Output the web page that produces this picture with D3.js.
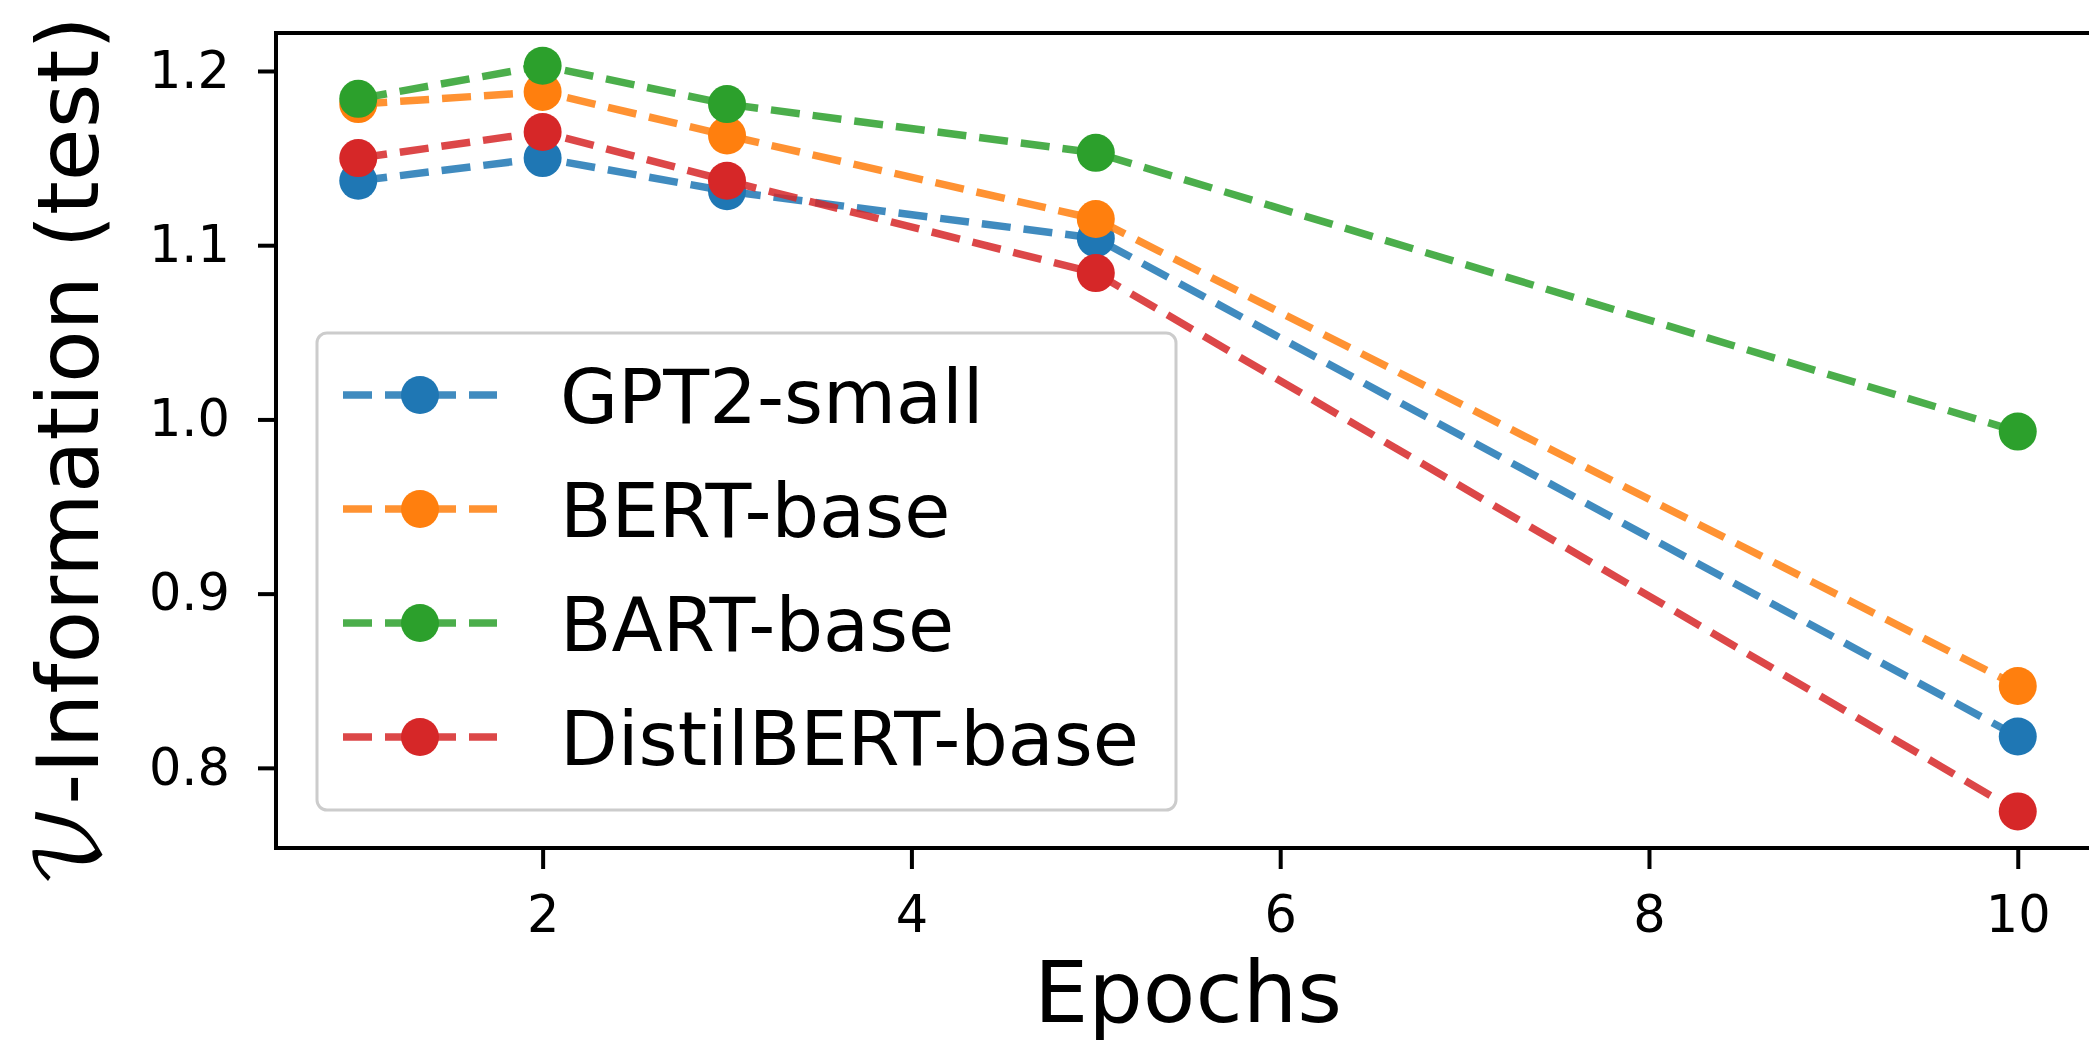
<!DOCTYPE html>
<html>
<head>
<meta charset="utf-8">
<script src="https://d3js.org/d3.v7.min.js"></script>
<style>
  body { margin: 0; background: #fff; }
  text { font-family: "DejaVu Sans", sans-serif; fill: #000; }
</style>
</head>
<body>
<svg id="chart"></svg>
<script>
  // data
  var epochs = [1, 2, 3, 5, 10];
  var models = ["GPT2-small", "BERT-base", "BART-base", "DistilBERT-base"];
  var gpt2 = [1.137, 1.150, 1.131, 1.104, 0.818];
  var bert = [1.181, 1.188, 1.163, 1.115, 0.847];
  var bart = [1.184, 1.203, 1.181, 1.153, 0.993];
  var distil = [1.150, 1.165, 1.137, 1.084, 0.775];
  var xTicks = [2, 4, 6, 8, 10];
  var yTicks = [0.8, 0.9, 1.0, 1.1, 1.2];
  var colors = ["#1f77b4", "#ff7f0e", "#2ca02c", "#d62728"];

  var series = [gpt2, bert, bart, distil];

  var W = 2089, H = 1043;
  var svg = d3.select("#chart").attr("width", W).attr("height", H);

  // axes box (right edge falls past the picture, like the original crop)
  var box = {left: 276, top: 33, bottom: 848, right: 2100};

  var x = d3.scaleLinear().domain([0.554, 10.446]).range([box.left, box.right]);
  var y = d3.scaleLinear().domain([0.754, 1.2218]).range([box.bottom, box.top]);

  // y axis
  var gy = svg.append("g")
    .attr("transform", "translate(" + box.left + ",0)")
    .call(d3.axisLeft(y).tickValues(yTicks).tickFormat(d3.format(".1f")).tickSize(18).tickPadding(28));
  gy.select(".domain").remove();
  gy.selectAll(".tick line").attr("stroke", "#000").attr("stroke-width", 4);
  gy.selectAll(".tick text").style("font-size", "51px").attr("fill", "#000");

  // x axis
  var gx = svg.append("g")
    .attr("transform", "translate(0," + box.bottom + ")")
    .call(d3.axisBottom(x).tickValues(xTicks).tickSize(21).tickPadding(27));
  gx.select(".domain").remove();
  gx.selectAll(".tick line").attr("stroke", "#000").attr("stroke-width", 4);
  gx.selectAll(".tick text").style("font-size", "51px").attr("fill", "#000");

  // spines
  svg.append("rect")
    .attr("x", box.left).attr("y", box.top)
    .attr("width", box.right - box.left).attr("height", box.bottom - box.top)
    .attr("fill", "none").attr("stroke", "#000").attr("stroke-width", 4);

  // lines + markers
  var line = d3.line()
    .x(function(d, i) { return x(epochs[i]); })
    .y(function(d) { return y(d); });

  series.forEach(function(vals, k) {
    svg.append("path")
      .datum(vals)
      .attr("d", line)
      .attr("fill", "none")
      .attr("stroke", colors[k])
      .attr("stroke-width", 7.5)
      .attr("stroke-dasharray", "29,13")
      .attr("opacity", 0.85);
    svg.append("g").selectAll("circle")
      .data(vals)
      .enter().append("circle")
      .attr("cx", function(d, i) { return x(epochs[i]); })
      .attr("cy", function(d) { return y(d); })
      .attr("r", 19)
      .attr("fill", colors[k]);
  });

  // legend
  var lg = svg.append("g");
  lg.append("rect")
    .attr("x", 317).attr("y", 333)
    .attr("width", 859).attr("height", 477)
    .attr("rx", 10)
    .attr("fill", "#fff").attr("fill-opacity", 0.8)
    .attr("stroke", "#cccccc").attr("stroke-width", 3);

  models.forEach(function(name, k) {
    var cy = 395 + k * 114;
    lg.append("line")
      .attr("x1", 343).attr("x2", 497)
      .attr("y1", cy).attr("y2", cy)
      .attr("stroke", colors[k])
      .attr("stroke-width", 7.5)
      .attr("stroke-dasharray", "29,13")
      .attr("opacity", 0.85);
    lg.append("circle")
      .attr("cx", 420).attr("cy", cy).attr("r", 19)
      .attr("fill", colors[k]);
    lg.append("text")
      .attr("x", 560).attr("y", cy + 28)
      .style("font-size", "75px")
      .text(name);
  });

  // axis labels
  svg.append("text")
    .attr("x", (box.left + box.right) / 2)
    .attr("y", 1022)
    .attr("text-anchor", "middle")
    .style("font-size", "86px")
    .text("Epochs");

  var yl = svg.append("text")
    .attr("transform", "translate(98,452) rotate(-90)")
    .attr("text-anchor", "middle")
    .style("font-size", "86px");
  yl.append("tspan")
    .style("font-family", "'DejaVu Math TeX Gyre', 'DejaVu Serif', serif")
    .text("\uD835\uDCB1");
  yl.append("tspan").text("-Information (test)");
</script>
</body>
</html>
